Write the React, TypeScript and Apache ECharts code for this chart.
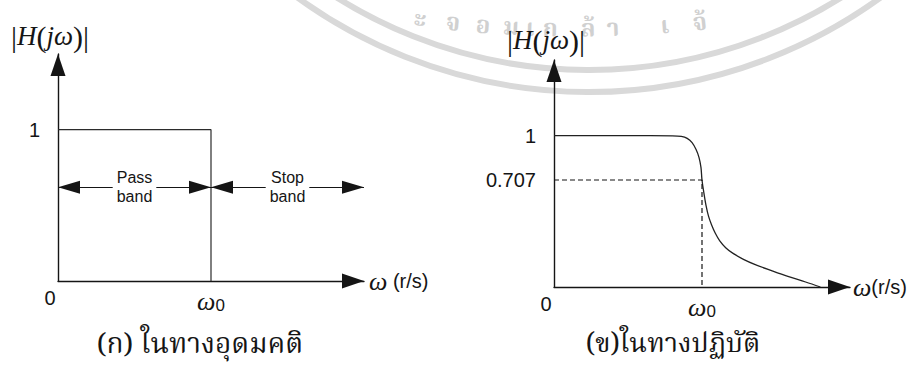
import React, { useEffect, useRef } from "react";
import * as echarts from "echarts";

// Ideal low-pass magnitude: unity up to the cutoff ω0, zero beyond it
const idealResponse: [number, number][] = [
  [0, 1],
  [1, 1],
  [1, 0],
];

// Practical low-pass magnitude against ω/ω0
const practicalResponse: [number, number][] = [
  [0, 1],
  [0.5, 1],
  [0.8, 0.999],
  [0.86, 0.995],
  [0.9, 0.982],
  [0.933, 0.954],
  [0.96, 0.908],
  [0.98, 0.855],
  [0.993, 0.79],
  [1.0, 0.707],
  [1.013, 0.62],
  [1.027, 0.54],
  [1.045, 0.465],
  [1.065, 0.41],
  [1.09, 0.355],
  [1.12, 0.305],
  [1.16, 0.26],
  [1.21, 0.222],
  [1.28, 0.183],
  [1.36, 0.148],
  [1.47, 0.108],
  [1.58, 0.07],
  [1.7, 0.033],
  [1.8, 0],
];

const cutoff = 1; // ω0
const halfPower = 0.707; // |H(jω0)|
const bandLevel = 0.62; // height of the pass/stop band arrows
const passBand: [number, number] = [0, 1];
const stopBand: [number, number] = [1, 2];
const bandNames = ["Pass\nband", "Stop\nband"];

const idealTicksX = [0, 1];
const idealTicksY = [1];
const practicalTicksX = [0, 1];
const practicalTicksY = [0.707, 1];

const captions = ["(ก) ในทางอุดมคติ", "(ข)ในทางปฏิบัติ"];

// faint university stamp behind the plots: glyphs set along an arc (degrees)
const stampText = ["ะ", "จ", "อ", "ม", "เ", "ก", "ล้", "า", "เ", "จ้"];
const stampAngles = [97.42, 95.84, 94.4, 93.06, 92.15, 91.19, 89.38, 88.18, 85.7, 84.02];

const INK = "#151515";
const SANS = "'Liberation Sans', Arial, Helvetica, sans-serif";
const SERIF = "'Liberation Serif', 'Times New Roman', serif";
const THAI = "'Noto Serif Thai', 'Noto Sans Thai', 'TH Sarabun New', Norasi, Garuda, Loma, serif";

const axisArrow = {
  show: true,
  onZero: false,
  symbol: ["none", "triangle"],
  symbolSize: [15, 22],
  symbolOffset: [0, -11],
  lineStyle: { color: INK, width: 1.4 },
};

const magName = "{b||}{i|H}{p|(}{i|jω}{p|)}{b||}";
const magNameStyle = {
  color: INK,
  padding: [0, 16, 0, 0],
  rich: {
    b: { fontFamily: SERIF, fontSize: 30, color: INK },
    i: { fontFamily: SERIF, fontStyle: "italic", fontSize: 27, color: INK },
    p: { fontFamily: SERIF, fontSize: 30, color: INK },
  },
};

const omegaNameStyle = {
  color: INK,
  fontFamily: SANS,
  fontSize: 20,
  rich: {
    w: { fontFamily: SERIF, fontStyle: "italic", fontSize: 26, color: INK },
  },
};

const freqLabel = (ticks: number[]) => ({
  customValues: ticks,
  margin: 7,
  color: INK,
  formatter: (v: number) => (v === 0 ? "{z|0}" : "{w|ω}{s|0}"),
  rich: {
    z: { fontFamily: SANS, fontSize: 20, color: INK, padding: [0, 16, 0, 0] },
    w: {
      fontFamily: SERIF,
      fontStyle: "italic",
      fontSize: 26,
      color: INK,
      verticalAlign: "top",
      lineHeight: 26,
    },
    s: {
      fontFamily: SANS,
      fontSize: 17,
      color: INK,
      lineHeight: 17,
      verticalAlign: "bottom",
      padding: [13, 0, 0, 0],
    },
  },
});

const gainLabel = (ticks: number[]) => ({
  customValues: ticks,
  margin: 18,
  color: INK,
  fontFamily: SANS,
  fontSize: 20,
  formatter: (v: number) => String(v),
});

export default function App() {
  const ref = useRef<HTMLDivElement>(null);

  useEffect(() => {
    if (!ref.current) return;
    const chart = echarts.init(ref.current, undefined, { renderer: "svg" });

    // stamp rings
    const ringX = 589;
    const ringY = -405;
    // arc that carries the stamp lettering
    const textX = 575;
    const textY = -1170;
    const textR = 1200;

    const stamp: any[] = [
      {
        type: "arc",
        silent: true,
        z: -1,
        shape: { cx: ringX, cy: ringY, r: 475, startAngle: 0.85, endAngle: 2.3 },
        style: { stroke: "#d9d9d9", lineWidth: 6, fill: "none" },
      },
      {
        type: "arc",
        silent: true,
        z: -1,
        shape: { cx: ringX, cy: ringY, r: 497, startAngle: 0.85, endAngle: 2.3 },
        style: { stroke: "#d9d9d9", lineWidth: 6, fill: "none" },
      },
      ...stampText.map((g, i) => {
        const a = (stampAngles[i] * Math.PI) / 180;
        return {
          type: "text",
          silent: true,
          z: -1,
          x: textX + textR * Math.cos(a),
          y: textY + textR * Math.sin(a),
          rotation: Math.PI / 2 - a,
          style: {
            text: g,
            fontFamily: THAI,
            fontSize: 24,
            lineHeight: 24,
            fontWeight: "bold",
            fill: "#d0d0d0",
            align: "center",
            verticalAlign: "middle",
          },
        };
      }),
    ];

    const bandMarkLine = {
      silent: true,
      animation: false,
      symbol: ["triangle", "triangle"],
      symbolSize: [13, 22],
      symbolOffset: [
        [0, 11],
        [0, 11],
      ],
      lineStyle: { color: INK, width: 1.1, type: "solid" },
      emphasis: { disabled: true },
      label: {
        show: true,
        position: "middle",
        distance: 0,
        verticalAlign: "middle",
        formatter: "{b}",
        fontFamily: SANS,
        fontSize: 16,
        lineHeight: 19,
        color: INK,
        backgroundColor: "#ffffff",
        padding: [0, 4],
      },
      data: [
        [
          { coord: [passBand[0], bandLevel], name: bandNames[0] },
          { coord: [passBand[1], bandLevel] },
        ],
        [
          { coord: [stopBand[0], bandLevel], name: bandNames[1] },
          { coord: [stopBand[1], bandLevel] },
        ],
      ],
    };

    chart.setOption({
      animation: false,
      backgroundColor: "#ffffff",
      grid: [
        { left: 58, top: 54, width: 306, height: 227 },
        { left: 554, top: 60, width: 296, height: 227 },
      ],
      xAxis: [
        {
          gridIndex: 0,
          type: "value",
          min: 0,
          max: 2,
          axisLine: axisArrow,
          axisTick: { show: false },
          splitLine: { show: false },
          axisLabel: freqLabel(idealTicksX),
          name: "{w|ω} (r/s)",
          nameLocation: "end",
          nameGap: 5,
          nameTextStyle: omegaNameStyle,
        },
        {
          gridIndex: 1,
          type: "value",
          min: 0,
          max: 2,
          axisLine: axisArrow,
          axisTick: { show: false },
          splitLine: { show: false },
          axisLabel: freqLabel(practicalTicksX),
          name: "{w|ω}(r/s)",
          nameLocation: "end",
          nameGap: 3,
          nameTextStyle: omegaNameStyle,
        },
      ],
      yAxis: [
        {
          gridIndex: 0,
          type: "value",
          min: 0,
          max: 1.5,
          axisLine: axisArrow,
          axisTick: { show: false },
          splitLine: { show: false },
          axisLabel: gainLabel(idealTicksY),
          name: magName,
          nameLocation: "end",
          nameGap: 3,
          nameTextStyle: magNameStyle,
        },
        {
          gridIndex: 1,
          type: "value",
          min: 0,
          max: 1.5,
          axisLine: axisArrow,
          axisTick: { show: false },
          splitLine: { show: false },
          axisLabel: gainLabel(practicalTicksY),
          name: magName,
          nameLocation: "end",
          nameGap: 5,
          nameTextStyle: magNameStyle,
        },
      ],
      series: [
        {
          name: "ideal",
          type: "line",
          xAxisIndex: 0,
          yAxisIndex: 0,
          data: idealResponse,
          symbol: "none",
          lineStyle: { color: "#2b2b2b", width: 1.2 },
          markLine: bandMarkLine,
        },
        {
          name: "practical",
          type: "line",
          xAxisIndex: 1,
          yAxisIndex: 1,
          data: practicalResponse,
          symbol: "none",
          smooth: 0.35,
          lineStyle: { color: "#222222", width: 1.3 },
        },
        {
          name: "cutoff",
          type: "line",
          xAxisIndex: 1,
          yAxisIndex: 1,
          data: [
            [0, halfPower],
            [cutoff, halfPower],
            [cutoff, 0],
          ],
          symbol: "none",
          lineStyle: { color: INK, width: 1.2, type: [5, 3] },
        },
      ],
      graphic: [
        ...stamp,
        {
          type: "text",
          x: 200,
          y: 345,
          style: {
            text: captions[0],
            fontFamily: THAI,
            fontSize: 28,
            lineHeight: 30,
            fill: INK,
            align: "center",
            verticalAlign: "middle",
          },
        },
        {
          type: "text",
          x: 673,
          y: 344,
          style: {
            text: captions[1],
            fontFamily: THAI,
            fontSize: 27,
            lineHeight: 28,
            fill: INK,
            align: "center",
            verticalAlign: "middle",
          },
        },
      ],
    });

    return () => chart.dispose();
  }, []);

  return (
    <div
      ref={ref}
      style={{
        position: "fixed",
        left: 0,
        top: 0,
        width: 917,
        height: 368,
        background: "#ffffff",
      }}
    />
  );
}
